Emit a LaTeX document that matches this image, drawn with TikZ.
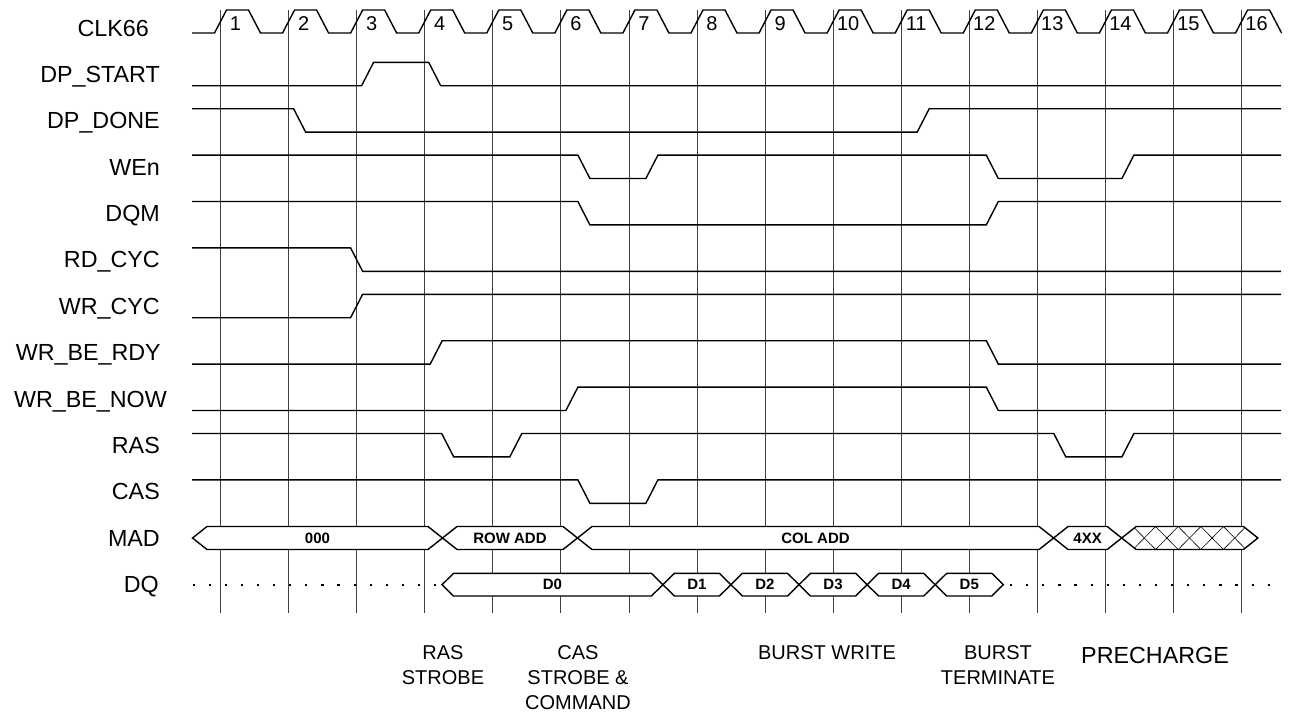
\documentclass[tikz,border=0pt]{standalone}
\usepackage{fontspec}
\setmainfont{Liberation Sans}

\begin{document}
\begin{tikzpicture}[x=1pt, y=-1pt,
  sig/.style={line width=1.4pt, line join=miter},
  bus/.style={sig, fill=white},
  gridln/.style={line width=0.8pt, black!75},
  hatch/.style={line width=0.6pt},
  dots/.style={line width=2.2pt, dash pattern=on 2.2pt off 13.9pt},
  lbl/.style={anchor=base east, inner sep=0pt, font=\fontsize{23.3}{28}\selectfont},
  num/.style={inner sep=0pt, font=\fontsize{20}{24}\selectfont},
  buslbl/.style={inner sep=0pt, font=\fontsize{15}{18}\selectfont\bfseries},
  note/.style={anchor=north, inner sep=0pt, align=center, font=\fontsize{20}{25}\selectfont}
]
\useasboundingbox (0,0) rectangle (1293,715);

\foreach \k in {1,...,16}
  \draw[gridln] ({220.5+68.07*(\k-1)},10) -- ({220.5+68.07*(\k-1)},613);

\node[lbl] (clk) at (149,36) {CLK66};
\node[lbl] (dpstart) at (160,82.3) {DP\_START};
\node[lbl] (dpdone) at (160,128.7) {DP\_DONE};
\node[lbl] (wen) at (160,175.1) {WEn};
\node[lbl] (dqm) at (160,221.5) {DQM};
\node[lbl] (rdcyc) at (160,267.9) {RD\_CYC};
\node[lbl] (wrcyc) at (160,314.3) {WR\_CYC};
\node[lbl] (berdy) at (161,360.7) {WR\_BE\_RDY};
\node[lbl] (benow) at (167,407.1) {WR\_BE\_NOW};
\node[lbl] (ras) at (160,453.5) {RAS};
\node[lbl] (cas) at (160,499.9) {CAS};
\node[lbl] (mad) at (160,546.3) {MAD};
\node[lbl] (dq) at (159,592.7) {DQ};

\draw[sig] (192,33) \foreach \k in {1,...,16} {
  -- ({214.5+68.07*(\k-1)},33) -- ({226.5+68.07*(\k-1)},10)
  -- ({248.5+68.07*(\k-1)},10) -- ({260.5+68.07*(\k-1)},33)};
\foreach \k in {1,...,16}
  \node[num] (n\k) at ({235.5+68.07*(\k-1)},24) {\k};

\draw[sig] (192,85.7) -- (361.6,85.7) -- (373.6,62.3) -- (428.7,62.3) -- (440.7,85.7) -- (1281,85.7);
\draw[sig] (192,108.7) -- (293.6,108.7) -- (305.6,132.1) -- (917.2,132.1) -- (929.2,108.7) -- (1281,108.7);
\draw[sig] (192,155.1) -- (577.9,155.1) -- (589.9,178.5) -- (645.9,178.5) -- (657.9,155.1)
  -- (986.3,155.1) -- (998.3,178.5) -- (1121.9,178.5) -- (1133.9,155.1) -- (1281,155.1);
\draw[sig] (192,201.5) -- (577.9,201.5) -- (589.9,224.9) -- (986.3,224.9) -- (998.3,201.5) -- (1281,201.5);
\draw[sig] (192,247.9) -- (350.6,247.9) -- (362.6,271.3) -- (1281,271.3);
\draw[sig] (192,317.7) -- (350.6,317.7) -- (362.6,294.3) -- (1281,294.3);
\draw[sig] (192,364.1) -- (430.2,364.1) -- (442.2,340.7) -- (986.3,340.7) -- (998.3,364.1) -- (1281,364.1);
\draw[sig] (192,410.5) -- (565.9,410.5) -- (577.9,387.1) -- (986.3,387.1) -- (998.3,410.5) -- (1281,410.5);
\draw[sig] (192,433.5) -- (441.7,433.5) -- (453.7,456.9) -- (509.8,456.9) -- (521.8,433.5)
  -- (1053.8,433.5) -- (1065.8,456.9) -- (1121.9,456.9) -- (1133.9,433.5) -- (1281,433.5);
\draw[sig] (192,479.9) -- (577.9,479.9) -- (589.9,503.3) -- (645.9,503.3) -- (657.9,479.9) -- (1281,479.9);

\foreach \a/\b/\t [count=\i] in {192.5/442.5/000, 442.5/577.5/ROW ADD, 577.5/1053.6/COL ADD, 1053.6/1121.7/4XX} {
  \draw[bus] (\a,538) -- (\a+14.5,526.5) -- (\b-14.5,526.5) -- (\b,538) -- (\b-14.5,549.5) -- (\a+14.5,549.5) -- cycle;
  \node[buslbl] (madv\i) at ({(\a+\b)/2},538) {\t};
}
\fill[white] (1121.7,538) -- (1136.2,526.5) -- (1243.4,526.5) -- (1257.9,538) -- (1243.4,549.5) -- (1136.2,549.5) -- cycle;
\begin{scope}
  \clip (1121.7,538) -- (1136.2,526.5) -- (1243.4,526.5) -- (1257.9,538) -- (1243.4,549.5) -- (1136.2,549.5) -- cycle;
  \foreach \i in {-1,...,5} {
    \draw[hatch] ({1133+22.6*\i},526.5) -- ({1155.6+22.6*\i},549.5);
    \draw[hatch] ({1155.6+22.6*\i},526.5) -- ({1133+22.6*\i},549.5);
  }
\end{scope}
\draw[sig] (1121.7,538) -- (1136.2,526.5) -- (1243.4,526.5) -- (1257.9,538) -- (1243.4,549.5) -- (1136.2,549.5) -- cycle;

\draw[dots] (192.5,585) -- (440,585);
\foreach \a/\b/\t [count=\i] in {442/662.9/D0, 662.9/730.9/D1, 730.9/799/D2, 799/867.1/D3, 867.1/935.2/D4, 935.2/1003.3/D5} {
  \draw[bus] (\a,584.7) -- (\a+11.5,573.3) -- (\b-11.5,573.3) -- (\b,584.7) -- (\b-11.5,596) -- (\a+11.5,596) -- cycle;
  \node[buslbl] (dqv\i) at ({(\a+\b)/2},584.7) {\t};
}
\draw[dots] (1010,585) -- (1281,585);

\node[note] (rasnote) at (443,645) {RAS\\STROBE};
\node[note] (casnote) at (578,645) {CAS\\STROBE \&\\COMMAND};
\node[note] (bwnote) at (827,645) {BURST WRITE};
\node[note] (btnote) at (998,645) {BURST\\TERMINATE};
\node[note, font=\fontsize{23.3}{28}\selectfont] (prenote) at (1155,647) {PRECHARGE};
\end{tikzpicture}
\end{document}
